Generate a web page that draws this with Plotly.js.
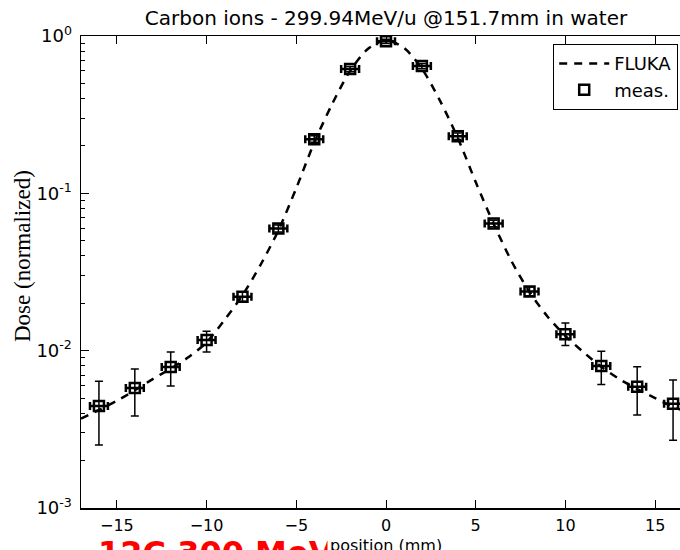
<!DOCTYPE html>
<html>
<head>
<meta charset="utf-8">
<script src="https://cdn.plot.ly/plotly-3.0.1.min.js"></script>
<style>
html,body{margin:0;padding:0;overflow:hidden;background:#fff;}
#chart{width:760px;height:550px;}
</style>
</head>
<body>
<div id="chart"></div>
<script>
// Measured lateral dose profile
const measX = [-16,-14,-12,-10,-8,-6,-4,-2,0,2,4,6,8,10,12,14,16];
const measY = [0.00445,0.00578,0.00787,0.0117,0.0220,0.0598,0.221,0.616,0.925,0.644,0.231,0.0644,0.0238,0.0127,0.0080,0.0059,0.0046];
const measUpper = [0.0064,0.00764,0.0098,0.0133,0.0236,0.0630,0.232,0.640,0.955,0.668,0.242,0.0675,0.0254,0.0150,0.0099,0.0079,0.0065];
const measLower = [0.00251,0.00384,0.00596,0.0098,0.0205,0.0568,0.211,0.593,0.895,0.620,0.220,0.0613,0.0223,0.0108,0.0061,0.0039,0.0027];
const measXErr = [0.5,0.5,0.5,0.5,0.5,0.5,0.5,0.5,0.5,0.5,0.5,0.5,0.5,0.5,0.5,0.5,0.5];

// FLUKA simulation
const flukaX = [-17,-16,-15,-14,-13,-12,-11,-10,-9,-8,-7,-6,-5,-4,-3,-2,-1,0,1,2,3,4,5,6,7,8,9,10,11,12,13,14,15,16,17];
const flukaY = [0.0037,0.0042,0.0048,0.0056,0.0066,0.0077,0.0091,0.0113,0.0157,0.0225,0.035,0.058,0.108,0.21,0.37,0.60,0.83,0.94,0.84,0.62,0.39,0.225,0.118,0.064,0.037,0.0236,0.0165,0.0124,0.0098,0.0079,0.0066,0.0057,0.0050,0.0044,0.0040];

// Tick labels
const xTickVals = [-15,-10,-5,0,5,10,15];
const yTickVals = [0.001,0.01,0.1,1];
const yTickText = ['10<sup>-3</sup>','10<sup>-2</sup>','10<sup>-1</sup>','10<sup>0</sup>'];

const titleText = 'Carbon ions - 299.94MeV/u @151.7mm in water';
const xTitle = 'position (mm)';
const yTitle = 'Dose (normalized)';
const legendNames = ['FLUKA', 'meas.'];
const bottomNote = '12C 300 MeV/u';

const errPlus = measUpper.map((u,i)=>u-measY[i]);
const errMinus = measLower.map((l,i)=>measY[i]-l);

const traces = [
  {
    x: flukaX, y: flukaY, type:'scatter', mode:'lines', name:legendNames[0],
    line:{color:'black', width:2.5, dash:'8px,7px', shape:'spline', smoothing:0.8}
  },
  {
    x: measX, y: measY, type:'scatter', mode:'markers', name:legendNames[1],
    marker:{symbol:'square-open', size:10, color:'black', line:{width:2.5, color:'black'}},
    error_y:{type:'data', symmetric:false, array:errPlus, arrayminus:errMinus, color:'black', thickness:1.5, width:4},
    error_x:{type:'data', array:measXErr, color:'black', thickness:2.5, width:4}
  }
];

const font = {family:'"DejaVu Sans", sans-serif', size:16, color:'#000'};

const layout = {
  width:760, height:550,
  margin:{l:81, r:69, t:36, b:42},
  paper_bgcolor:'#fff', plot_bgcolor:'#fff',
  font: font,
  showlegend:true,
  title:{text:titleText, x:386/760, xanchor:'center', y:0.967, yanchor:'middle', font:{family:'"DejaVu Sans", sans-serif', size:20, color:'#000'}},
  xaxis:{
    range:[-17,17], tickvals:xTickVals, ticks:'inside', ticklen:8, tickwidth:1,
    tickcolor:'#000', showline:true, linecolor:'#000', linewidth:1.5, mirror:'allticks',
    showgrid:false, zeroline:false, tickfont:{size:16}, ticklabelstandoff:2
  },
  yaxis:{
    type:'log', range:[-3,0], tickvals:yTickVals, ticktext:yTickText, ticks:'inside', ticklen:8,
    tickcolor:'#000', showline:true, linecolor:'#000', linewidth:1.5, mirror:'allticks',
    showgrid:false, zeroline:false, tickfont:{size:18}, ticklabelstandoff:4,
    minor:{ticks:'inside', ticklen:4, tickcolor:'#000', dtick:'D1', showgrid:false}
  },
  legend:{
    x:(553-81)/610, y:(508-44)/472, xanchor:'left', yanchor:'top',
    bordercolor:'#000', borderwidth:1.2, bgcolor:'#fff',
    font:{family:'"DejaVu Sans", sans-serif', size:18}, itemwidth:50, tracegroupgap:2
  },
  annotations:[
    {text:yTitle, xref:'paper', yref:'paper', x:-(81-22)/610, xanchor:'center', y:(508-256)/472, yanchor:'middle',
     textangle:-90, showarrow:false, font:{family:'"Liberation Serif", serif', size:23, color:'#000'}},
    {text:'<b>'+bottomNote+'</b>', xref:'paper', yref:'paper', x:(96-81)/610, xanchor:'left', y:-(532-508)/472, yanchor:'top',
     showarrow:false, font:{family:'"DejaVu Sans", sans-serif', size:32, color:'#ff0000'}},
    {text:xTitle, xref:'paper', yref:'paper', x:0.5, xanchor:'center', y:-(545-508)/472, yanchor:'middle',
     showarrow:false, bgcolor:'#fff', borderpad:2, font:{family:'"DejaVu Sans", sans-serif', size:16, color:'#000'}}
  ]
};

Plotly.newPlot('chart', traces, layout, {displayModeBar:false, staticPlot:true});
</script>
</body>
</html>
